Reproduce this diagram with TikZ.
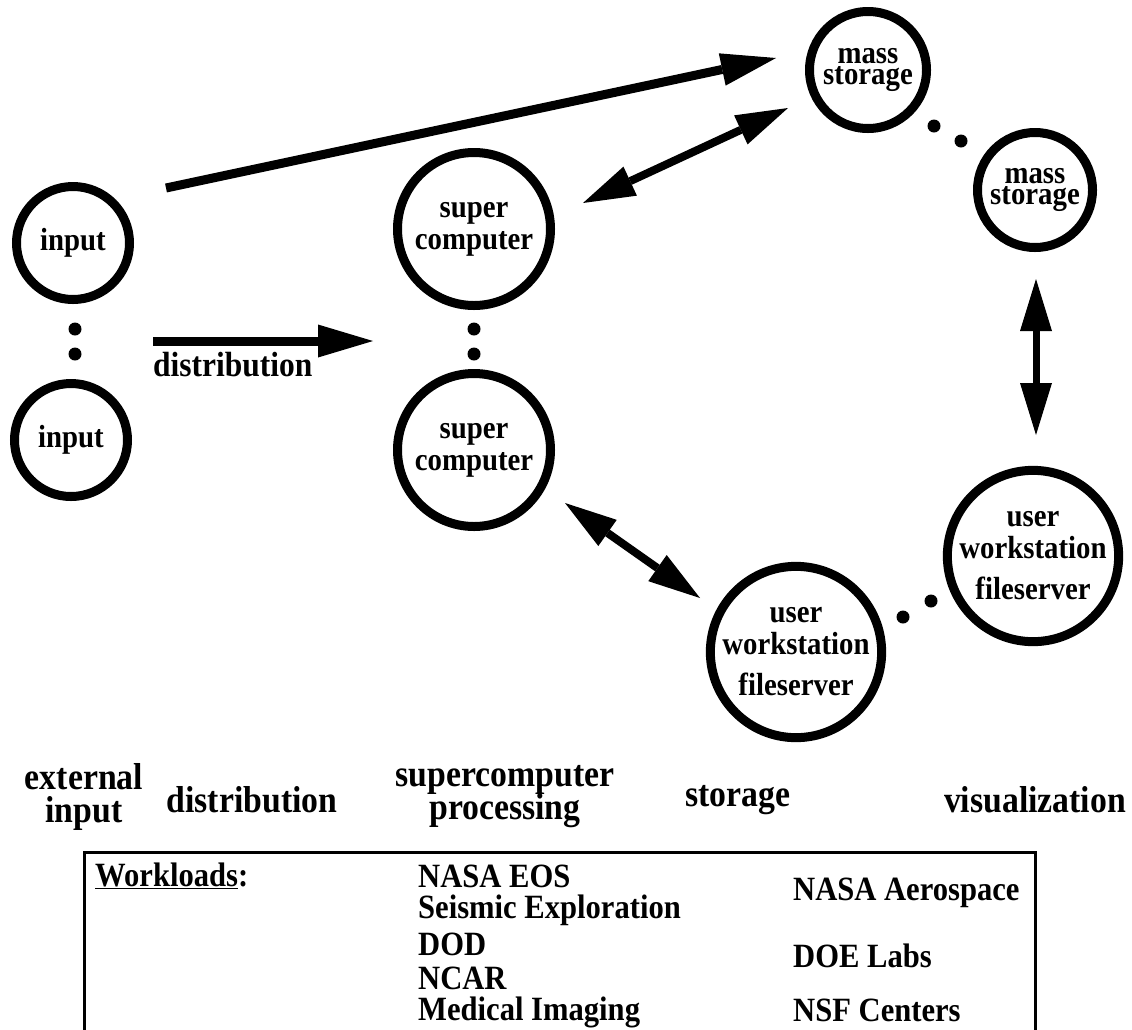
\documentclass[tikz,border=0pt]{standalone}
\usepackage{fontspec}
\setmainfont[FakeStretch=0.9]{Liberation Serif}
\usetikzlibrary{arrows.meta}
\lineskiplimit=-100pt
\begin{document}
\begin{tikzpicture}[x=1pt,y=-1pt,
  unit/.style={draw,circle,line width=9pt,inner sep=0pt,align=center,
    font=\bfseries\fontsize{32}{32}\selectfont},
  tight/.style={font=\bfseries\fontsize{32}{21}\selectfont},
  dotmark/.style={circle,fill,inner sep=0pt,minimum size=13pt},
  onearrow/.style={line width=9pt,-{Triangle[length=55pt,width=33pt,line width=0pt]}},
  twoarrow/.style={line width=8pt,{Triangle[length=52pt,width=32pt,line width=0pt]}-{Triangle[length=52pt,width=32pt,line width=0pt]}},
  lbl/.style={align=center,inner sep=0pt,font=\bfseries\fontsize{37.5}{33}\selectfont},
  wl/.style={anchor=west,inner sep=0pt,font=\bfseries\fontsize{34}{34}\selectfont}
]
\useasboundingbox (0,0) rectangle (1132,1029);
\clip (0,0) rectangle (1132,1029);

% nodes
\node[unit,minimum size=113pt] (in1) at (73,243) {input};
\node[unit,minimum size=113pt] (in2) at (71,440) {input};
\node[unit,minimum size=153pt] (sc1) at (474,229) {super\\computer};
\node[unit,minimum size=153pt] (sc2) at (474,450) {super\\computer};
\node[unit,tight,minimum size=117pt] (ms1) at (868,70) {mass\\storage};
\node[unit,tight,minimum size=115pt] (ms2) at (1035,190) {mass\\storage};
\node[unit,minimum size=168pt] (uw1) at (796,652) {user\\workstation\\[9pt]fileserver};
\node[unit,minimum size=168pt] (uw2) at (1033,556) {user\\workstation\\[9pt]fileserver};

% ellipsis dots
\node[dotmark] (d1) at (75,329) {};
\node[dotmark] (d2) at (75,354) {};
\node[dotmark] (d3) at (474,329) {};
\node[dotmark] (d4) at (474,354) {};
\node[dotmark] (d5) at (934,126) {};
\node[dotmark] (d6) at (961,141) {};
\node[dotmark] (d7) at (903,617) {};
\node[dotmark] (d8) at (931,601) {};

% arrow end points
\coordinate (a1s) at (166,188);
\coordinate (a1e) at (776,58);
\coordinate (a2s) at (153,341);
\coordinate (a2e) at (373,341);
\coordinate (a3s) at (583,203);
\coordinate (a3e) at (788,108);
\coordinate (a4s) at (1036,279);
\coordinate (a4e) at (1036,435);
\coordinate (a5s) at (565,503);
\coordinate (a5e) at (700,598);

\draw[onearrow] (a1s) -- (a1e);
\draw[onearrow] (a2s) -- (a2e);
\draw[twoarrow] (a3s) -- (a3e);
\draw[twoarrow,line width=7pt] (a4s) -- (a4e);
\draw[twoarrow] (a5s) -- (a5e);

\node[anchor=west,inner sep=0pt,font=\bfseries\fontsize{35}{35}\selectfont] (dl) at (153,365) {distribution};

% column labels
\node[lbl] (lx) at (84,797) {external\\input};
\node[lbl] (ld) at (252,800) {distribution};
\node[lbl] (ls) at (505,797) {supercomputer\\processing};
\node[lbl] (lst) at (738,800) {storage};
\node[lbl] (lv) at (1035,800) {visualization};

% workloads box
\coordinate (bl) at (84,1040);
\coordinate (tl) at (84,852);
\coordinate (tr) at (1035,852);
\coordinate (br) at (1035,1040);
\draw[line width=3pt] (bl) -- (tl) -- (tr) -- (br);

\node[wl] (wk) at (95,876) {\underline{Workloads}:};
\node[wl] (w1) at (418,876) {NASA EOS};
\node[wl] (w2) at (418,910) {Seismic Exploration};
\node[wl] (w3) at (418,944) {DOD};
\node[wl] (w4) at (418,978) {NCAR};
\node[wl] (w5) at (418,1012) {Medical Imaging};
\node[wl] (w6) at (793,893) {NASA Aerospace};
\node[wl] (w7) at (793,956) {DOE Labs};
\node[wl] (w8) at (793,1010) {NSF Centers};
\end{tikzpicture}
\end{document}
